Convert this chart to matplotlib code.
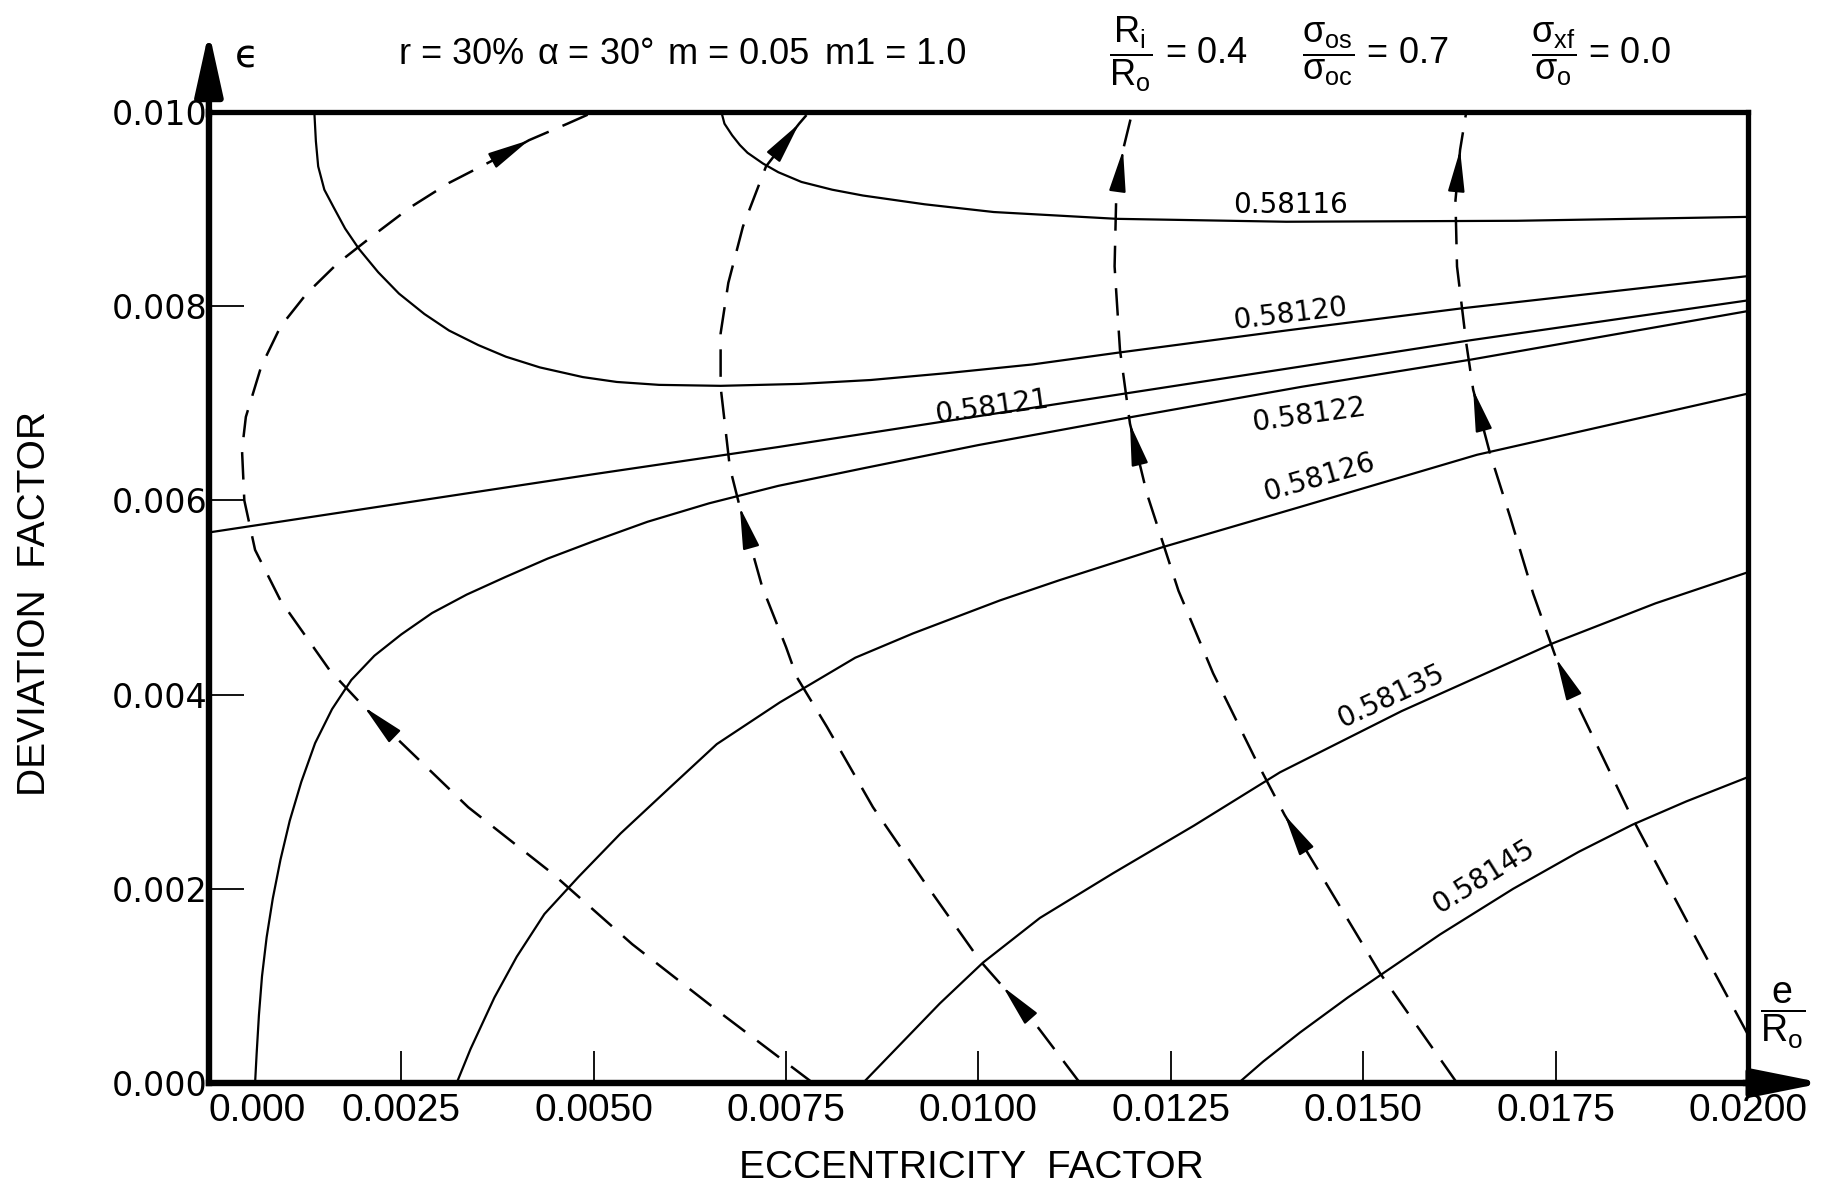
import matplotlib
matplotlib.use("Agg")
import matplotlib.pyplot as plt
from matplotlib import font_manager
import numpy as np


# pick a narrow lettering font if one is installed
def pick_font(names):
    for n in names:
        try:
            font_manager.findfont(font_manager.FontProperties(family=n), fallback_to_default=False)
            return n
        except ValueError:
            pass
    return 'DejaVu Sans'


narrow = pick_font(['Liberation Sans Narrow', 'DejaVu Sans Condensed', 'Liberation Sans'])
wide = 'DejaVu Sans'

# ---- data ----
xticks = [0.0, 0.0025, 0.0050, 0.0075, 0.0100, 0.0125, 0.0150, 0.0175, 0.0200]
xtick_labels = ['0.000', '0.0025', '0.0050', '0.0075', '0.0100', '0.0125', '0.0150', '0.0175', '0.0200']
yticks = [0.000, 0.002, 0.004, 0.006, 0.008, 0.010]
ytick_labels = ['0.000', '0.002', '0.004', '0.006', '0.008', '0.010']

# solid contour lines
c58116_x = [0.00666, 0.0067, 0.0068, 0.0069, 0.0070, 0.0072, 0.0074, 0.0077, 0.0081, 0.0085, 0.0093, 0.0102,
            0.0118, 0.0140, 0.0170, 0.0200]
c58116_y = [0.0100, 0.00988, 0.00976, 0.00966, 0.00958, 0.00947, 0.00938, 0.00928, 0.00920, 0.00914, 0.00905,
            0.00897, 0.00890, 0.00887, 0.00888, 0.00892]

c58120_x = [0.00137, 0.00139, 0.00142, 0.0015, 0.00162, 0.00177, 0.00195, 0.0022, 0.00247, 0.0028, 0.00312,
            0.0035, 0.00386, 0.0043, 0.00486, 0.0053, 0.00585, 0.00665, 0.00768, 0.0086, 0.00958, 0.0107,
            0.0118, 0.0140, 0.0163, 0.0200]
c58120_y = [0.0100, 0.0097, 0.00944, 0.0092, 0.00902, 0.0088, 0.00859, 0.00835, 0.00813, 0.00792, 0.00775,
            0.0076, 0.00748, 0.00737, 0.00727, 0.00722, 0.00719, 0.00718, 0.00720, 0.00724, 0.00731, 0.0074,
            0.00752, 0.00775, 0.00798, 0.00831]

c58121_x = [0.0, 0.0050, 0.0074, 0.0119, 0.0142, 0.0164, 0.0200]
c58121_y = [0.00567, 0.00627, 0.00655, 0.00710, 0.00738, 0.00765, 0.00806]

c58122_x = [0.00060, 0.00062, 0.00065, 0.00069, 0.00075, 0.00083, 0.00093, 0.00105, 0.00120, 0.00138, 0.00160,
            0.00185, 0.00215, 0.00250, 0.00290, 0.00335, 0.00385, 0.00440, 0.00500, 0.00570, 0.00650, 0.00740,
            0.0085, 0.0100, 0.0120, 0.0142, 0.0164, 0.0200]
c58122_y = [0.0, 0.0003, 0.0007, 0.0011, 0.0015, 0.0019, 0.0023, 0.0027, 0.0031, 0.0035, 0.00385,
            0.00415, 0.00440, 0.00462, 0.00484, 0.00503, 0.00521, 0.00540, 0.00558, 0.00578, 0.00597, 0.00615,
            0.00633, 0.00657, 0.00686, 0.00717, 0.00745, 0.00795]

c58126_x = [0.00322, 0.0034, 0.00371, 0.0040, 0.00436, 0.0048, 0.00535, 0.0060, 0.0066, 0.00742, 0.0084,
            0.00915, 0.01028, 0.01106, 0.0124, 0.01417, 0.01648, 0.0200]
c58126_y = [0.0, 0.00035, 0.00088, 0.0013, 0.00174, 0.00212, 0.00257, 0.00305, 0.00349, 0.00392, 0.00438,
            0.00463, 0.00497, 0.00518, 0.00552, 0.00593, 0.00647, 0.0071]

c58135_x = [0.0085, 0.0090, 0.0095, 0.01006, 0.0108, 0.01175, 0.0128, 0.01392, 0.0155, 0.01747, 0.0188, 0.0200]
c58135_y = [0.0, 0.00041, 0.00082, 0.00124, 0.00170, 0.00216, 0.00265, 0.0032, 0.00383, 0.00453, 0.00494, 0.00526]

c58145_x = [0.01338, 0.0137, 0.01418, 0.0148, 0.01526, 0.0160, 0.01695, 0.0178, 0.0185, 0.0192, 0.0200]
c58145_y = [0.0, 0.00022, 0.00052, 0.00088, 0.00113, 0.00153, 0.00200, 0.00238, 0.00266, 0.0029, 0.00315]

contours = [
    (c58116_x, c58116_y, '0.58116', (0.01405, 0.00904), 0),
    (c58120_x, c58120_y, '0.58120', (0.01405, 0.00792), 7),
    (c58121_x, c58121_y, '0.58121', (0.01018, 0.00696), 8),
    (c58122_x, c58122_y, '0.58122', (0.01430, 0.00688), 8),
    (c58126_x, c58126_y, '0.58126', (0.01443, 0.00624), 16),
    (c58135_x, c58135_y, '0.58135', (0.01536, 0.00398), 25),
    (c58145_x, c58145_y, '0.58145', (0.01656, 0.00212), 32),
]

# dashed paths (drawn from start to end, arrows at the listed indices)
p1_x = [0.00785, 0.0066, 0.0055, 0.00446, 0.00337, 0.00202, 0.00157, 0.00093, 0.00060, 0.00046, 0.00043,
        0.00048, 0.00068, 0.00093, 0.00127, 0.00167, 0.00212, 0.00262, 0.00312, 0.00366, 0.00416, 0.00466, 0.0050]
p1_y = [0.0, 0.00075, 0.00143, 0.00216, 0.00284, 0.00387, 0.00425, 0.00497, 0.00549, 0.0060, 0.00652,
        0.00686, 0.00738, 0.00779, 0.00813, 0.00844, 0.00872, 0.00902, 0.00927, 0.00949, 0.00971, 0.00988, 0.0100]
p1_arrows = [5, 20]

p2_x = [0.01132, 0.01071, 0.01032, 0.01002, 0.00928, 0.00863, 0.00803, 0.00764, 0.0075, 0.00719, 0.0069,
        0.00677, 0.00665, 0.00665, 0.00675, 0.00694, 0.00724, 0.00767, 0.0078]
p2_y = [0.0, 0.00064, 0.00099, 0.00126, 0.00209, 0.00284, 0.00367, 0.00418, 0.00449, 0.00511, 0.00593,
        0.00634, 0.00717, 0.00772, 0.00824, 0.00882, 0.00944, 0.00988, 0.0100]
p2_arrows = [2, 10, 17]

p3_x = [0.01622, 0.01522, 0.01444, 0.01398, 0.01361, 0.01305, 0.0126, 0.01219, 0.01197, 0.01184, 0.01177,
        0.01179, 0.01188, 0.0120]
p3_y = [0.0, 0.00113, 0.00216, 0.00276, 0.00332, 0.00422, 0.00507, 0.00607, 0.00679, 0.00755, 0.00841,
        0.00909, 0.00961, 0.0100]
p3_arrows = [3, 8, 12]

p4_x = [0.0200, 0.01934, 0.01847, 0.01782, 0.01751, 0.01721, 0.01691, 0.01665, 0.01643, 0.01634, 0.01622,
        0.0162, 0.01626, 0.01634]
p4_y = [0.0005, 0.00147, 0.00277, 0.00384, 0.00437, 0.00504, 0.00583, 0.00648, 0.00714, 0.00762, 0.00841,
        0.00909, 0.00961, 0.0100]
p4_arrows = [4, 8, 12]

paths = [(p1_x, p1_y, p1_arrows), (p2_x, p2_y, p2_arrows), (p3_x, p3_y, p3_arrows), (p4_x, p4_y, p4_arrows)]

# ---- figure ----
fig = plt.figure(figsize=(18.31, 11.88), dpi=100)
ax = fig.add_axes([0.1141, 0.0884, 0.8405, 0.8173])
ax.set_xlim(0, 0.02)
ax.set_ylim(0, 0.01)

for cx, cy, lab, pos, rot in contours:
    ax.plot(cx, cy, color='black', lw=1.6, solid_joinstyle='round')
    ax.text(pos[0], pos[1], lab, ha='center', va='center', rotation=rot, rotation_mode='anchor',
            fontsize=20, family=[wide], color='black')

for px, py, arr in paths:
    ax.plot(px, py, color='black', lw=1.8, dashes=(11, 6))

fig.canvas.draw()
for px, py, arr in paths:
    for i in arr:
        tip = ax.transData.transform((px[i], py[i]))
        prev = ax.transData.transform((px[i - 1], py[i - 1]))
        d = (prev - tip) / np.hypot(*(prev - tip))
        ax.annotate('', xy=(px[i], py[i]), xytext=(d[0] * 30, d[1] * 30), textcoords='offset pixels',
                    arrowprops=dict(arrowstyle='-|>,head_length=1.3,head_width=0.26', color='black',
                                    lw=1.5, shrinkA=0, shrinkB=0, mutation_scale=20))

# frame, ticks
for s in ax.spines.values():
    s.set_linewidth(3.8)
    s.set_color('black')
ax.spines['left'].set_linewidth(4.6)
ax.spines['bottom'].set_linewidth(4.6)

ax.set_xticks(xticks)
ax.set_xticklabels(xtick_labels, family=narrow, fontsize=28)
ax.set_yticks(yticks)
ax.set_yticklabels(ytick_labels, family=wide, fontsize=24)
ax.tick_params(axis='x', direction='in', length=23, width=1.3, pad=7)
ax.tick_params(axis='y', direction='in', length=25, width=1.3, pad=1)
ax.get_xticklabels()[0].set_horizontalalignment('left')

# axis arrows past the frame
ax.annotate('', xy=(0, 1.083), xytext=(0, 0.995), xycoords='axes fraction',
            arrowprops=dict(arrowstyle='-|>,head_length=1.9,head_width=0.42', color='black',
                            lw=4.6, shrinkA=0, shrinkB=0, mutation_scale=20))
ax.annotate('', xy=(1.049, 0), xytext=(0.997, 0), xycoords='axes fraction',
            arrowprops=dict(arrowstyle='-|>,head_length=2.1,head_width=0.42', color='black',
                            lw=4.6, shrinkA=0, shrinkB=0, mutation_scale=20))

fig.text(247 / 1831, 1 - 56 / 1188, '\u03f5', fontsize=28, ha='center', va='center', family=wide)
fig.text(1783 / 1831, 1 - 1016 / 1188, r'$\dfrac{\mathregular{e}}{\mathregular{R_o}}$', fontsize=27,
         ha='center', va='center', family=narrow)

# axis titles
fig.text(971 / 1831, 1 - 1168 / 1188, 'ECCENTRICITY  FACTOR', fontsize=28, ha='center', va='center',
         family=narrow)
fig.text(35 / 1831, 1 - 604 / 1188, 'DEVIATION  FACTOR', fontsize=28, ha='center', va='center',
         rotation=90, family=narrow)

# parameter line across the top (centres)
ty = 1 - 54 / 1188
top_items = [
    (462, 'r = 30%'),
    (595, r'$\mathregular{\alpha}$ = 30°'),
    (739, 'm = 0.05'),
    (896, 'm1 = 1.0'),
    (1178, r'$\dfrac{\mathregular{R_i}}{\mathregular{R_o}}$ = 0.4'),
    (1375, r'$\dfrac{\mathregular{\sigma_{os}}}{\mathregular{\sigma_{oc}}}$ = 0.7'),
    (1601, r'$\dfrac{\mathregular{\sigma_{xf}}}{\mathregular{\sigma_{o}}}$ = 0.0'),
]
for xp, s in top_items:
    fig.text(xp / 1831, ty, s, fontsize=26, ha='center', va='center', family=narrow)

fig.savefig('out.png', dpi=100, facecolor='white')
